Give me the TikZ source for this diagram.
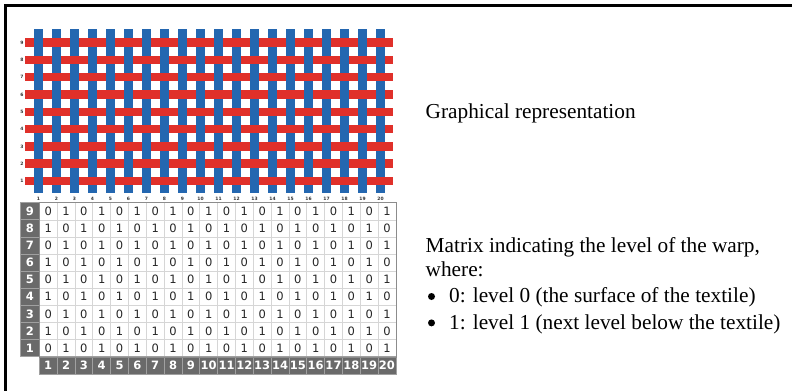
\documentclass[tikz,border=0pt]{standalone}
\usepackage{fontspec}
\setmainfont{Liberation Serif}
\newfontfamily\cellfont{DejaVu Sans}
\definecolor{warpblue}{HTML}{2467B0}
\definecolor{weftred}{HTML}{E0302A}
\definecolor{hdrgray}{HTML}{6A6A6A}
\definecolor{hdrline}{HTML}{A0A0A0}
\definecolor{gridgray}{HTML}{D6D6D6}
\definecolor{boxgray}{HTML}{8C8C8C}
\begin{document}
\begin{tikzpicture}[x=1pt,y=-1pt,
  warp/.style={fill=warpblue},
  weft/.style={fill=weftred},
  tinylbl/.style={font=\cellfont\bfseries\fontsize{4.5}{4.5}\selectfont, inner sep=0pt, text=black!80},
  datacell/.style={draw=gridgray, line width=0.6pt, minimum width=17.83pt, minimum height=17.1pt, inner sep=0pt, font=\cellfont\fontsize{11.5}{11.5}\selectfont, text=black!85},
  hdrcell/.style={draw=hdrline, fill=hdrgray, line width=0.8pt, minimum height=17.1pt, inner sep=0pt, font=\cellfont\bfseries\fontsize{11.5}{11.5}\selectfont, text=white},
  lbl/.style={font=\fontsize{21.3}{26}\selectfont, inner sep=0pt, anchor=base west},
  bulletdot/.style={circle, fill=black, inner sep=0pt, minimum size=7pt}
]
\useasboundingbox (0,0) rectangle (792,391);
% frame (top and left edges)
\draw[line width=2.5pt] (4,5.3) -- (792,5.3);
\draw[line width=2.5pt] (5.3,4) -- (5.3,391);
% warp threads
\foreach \i in {1,...,20}{
  \pgfmathsetmacro{\cx}{38.5+18*(\i-1)}
  \fill[warp] (\cx-4.6,29) rectangle (\cx+4.6,193);
  \node[tinylbl] (cl\i) at (\cx,198.5) {\i};
}
% weft threads
\foreach \j in {1,...,9}{
  \pgfmathsetmacro{\cy}{181-17.3*(\j-1)}
  \fill[weft] (25,\cy-4.25) rectangle (393,\cy+4.25);
  \node[tinylbl] (rl\j) at (22,\cy) {\j};
}
% warp on top where level 0
\foreach \j in {1,...,9}{
  \foreach \i in {1,...,20}{
    \pgfmathtruncatemacro{\v}{mod(\i+\j,2)}
    \ifnum\v=0
      \pgfmathsetmacro{\cx}{38.5+18*(\i-1)}
      \pgfmathsetmacro{\cy}{181-17.3*(\j-1)}
      \fill[warp] (\cx-4.6,\cy-4.3) rectangle (\cx+4.6,\cy+4.3);
    \fi
  }
}
% matrix
\foreach \j in {1,...,9}{
  \pgfmathsetmacro{\my}{202.7+17.1*(9-\j)+8.55}
  \node[hdrcell, minimum width=18.6pt] (rh\j) at (30,\my) {\j};
  \foreach \i in {1,...,20}{
    \pgfmathsetmacro{\mx}{39.3+17.83*(\i-0.5)}
    \pgfmathtruncatemacro{\v}{mod(\i+\j,2)}
    \node[datacell] (m\j-\i) at (\mx,\my) {\v};
  }
}
\foreach \i in {1,...,20}{
  \pgfmathsetmacro{\mx}{39.3+17.83*(\i-0.5)}
  \node[hdrcell, minimum width=17.83pt, minimum height=17.3pt] (ch\i) at (\mx,365.35) {\i};
}
\draw[boxgray, line width=0.8pt] (m9-1.north west) rectangle (m1-20.south east);
% texts
\node[lbl] (t1) at (425.5,118.3) {Graphical representation};
\node[lbl] (t2) at (425.5,252.5) {Matrix indicating the level of the warp,};
\node[lbl] (t3) at (425.5,276.8) {where:};
\node[bulletdot] (b1) at (431.5,296.5) {};
\node[lbl] (t4) at (449,302.8) {0: level 0 (the surface of the textile)};
\node[bulletdot] (b2) at (431.5,322.9) {};
\node[lbl] (t5) at (449,329.2) {1: level 1 (next level below the textile)};
\end{tikzpicture}
\end{document}
